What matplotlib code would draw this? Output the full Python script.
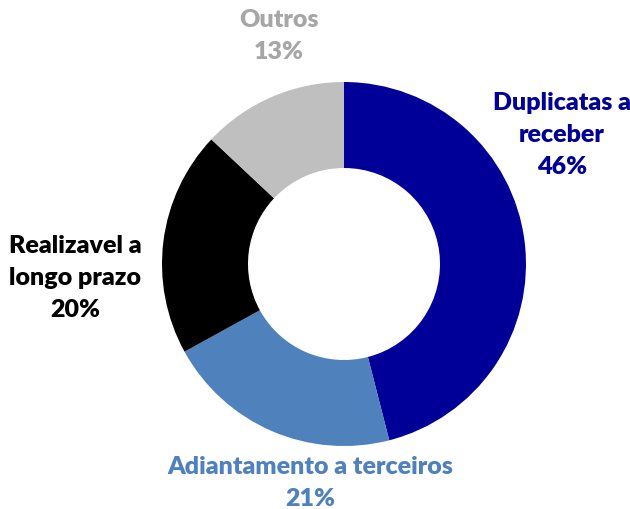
import matplotlib.pyplot as plt

labels = ['Duplicatas a\nreceber', 'Adiantamento a terceiros', 'Realizavel a\nlongo prazo', 'Outros']
shares = [46, 21, 20, 13]
colors = ['#000099', '#4F81BD', '#000000', '#BFBFBF']
text_colors = ['#000099', '#4F81BD', '#000000', '#A6A6A6']

plt.rcParams['font.family'] = ['Lato', 'DejaVu Sans']

fig = plt.figure(figsize=(6.3, 5.1), dpi=100)
ax = fig.add_axes([0, 0, 1, 1])

ax.pie(shares, colors=colors, startangle=90, counterclock=False,
       center=(344, 245), radius=182, frame=True,
       wedgeprops=dict(width=86, edgecolor='none'))
ax.set_xlim(0, 630)
ax.set_ylim(0, 510)
ax.set_aspect('equal')
ax.axis('off')

# label positions (pixels from the top-left corner)
label_pos = [(562, 135), (310, 483), (75, 278), (279, 36)]
for lab, val, tc, (x, y) in zip(labels, shares, text_colors, label_pos):
    ax.text(x, 510 - y, f'{lab}\n{val}%', ha='center', va='center',
            color=tc, fontsize=18, fontweight='heavy', linespacing=1.55)

fig.savefig('out.png', dpi=100)
